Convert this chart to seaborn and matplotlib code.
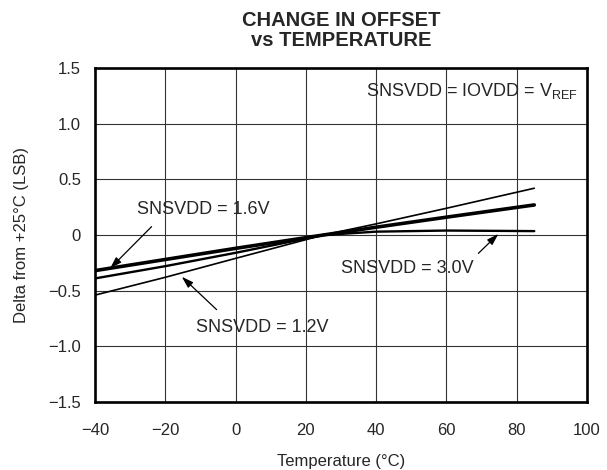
import numpy as np
import pandas as pd
import seaborn as sns
import matplotlib
matplotlib.use("Agg")
import matplotlib.pyplot as plt

# values
temperature = [-40, -20, 0, 25, 40, 60, 85]
delta_1v2 = [-0.54, -0.38, -0.21, 0.0, 0.10, 0.24, 0.42]
delta_1v6 = [-0.32, -0.22, -0.12, 0.0, 0.07, 0.16, 0.27]
delta_3v0 = [-0.39, -0.28, -0.16, 0.0, 0.03, 0.04, 0.035]

x_ticks = [-40, -20, 0, 20, 40, 60, 80, 100]
x_tick_labels = ["\u221240", "\u221220", "0", "20", "40", "60", "80", "100"]
y_ticks = [-1.5, -1.0, -0.5, 0, 0.5, 1.0, 1.5]
y_tick_labels = ["\u22121.5", "\u22121.0", "\u22120.5", "0", "0.5", "1.0", "1.5"]

sns.set_style("white")
plt.rcParams["font.family"] = ["Liberation Sans", "DejaVu Sans"]
plt.rcParams["mathtext.fontset"] = "custom"
plt.rcParams["mathtext.rm"] = "Liberation Sans"

df = pd.DataFrame({
    "temp": temperature * 3,
    "delta": delta_1v2 + delta_1v6 + delta_3v0,
    "series": ["1.2V"] * 7 + ["1.6V"] * 7 + ["3.0V"] * 7,
})

fig = plt.figure(figsize=(6.07, 4.70), dpi=100)
ax = fig.add_axes([0.1565, 0.1447, 0.8105, 0.7106])

widths = {"1.2V": 1.2, "1.6V": 2.6, "3.0V": 1.7}
for name, grp in df.groupby("series"):
    sns.lineplot(data=grp, x="temp", y="delta", color="black",
                 linewidth=widths[name], ax=ax, legend=False)

ax.set_xlim(-40, 100)
ax.set_ylim(-1.5, 1.5)
ax.set_xticks(x_ticks)
ax.set_xticklabels(x_tick_labels)
ax.set_yticks(y_ticks)
ax.set_yticklabels(y_tick_labels)
ax.tick_params(axis="both", length=0, labelsize=12)
ax.tick_params(axis="x", pad=15)
ax.tick_params(axis="y", pad=10)
ax.grid(True, color="#333333", linewidth=0.8)
for s in ax.spines.values():
    s.set_visible(True)
    s.set_color("black")
    s.set_linewidth(1.9)

ax.set_xlabel("Temperature (\u00b0C)", fontsize=12, labelpad=12)
ax.set_ylabel("Delta from +25\u00b0C (LSB)", fontsize=12, labelpad=14)
ax.set_title("CHANGE IN OFFSET\nvs TEMPERATURE", fontsize=14.5, fontweight="bold",
             pad=16, linespacing=1.05)

arrow = dict(arrowstyle="-|>,head_length=0.7,head_width=0.22", color="black",
             lw=0.9, shrinkA=0, shrinkB=0)
ax.text(97.5, 1.29, "SNSVDD = IOVDD = V$_{\\mathrm{REF}}$", ha="right", va="center",
        fontsize=13)
ax.text(-9.3, 0.23, "SNSVDD = 1.6V", ha="center", va="center", fontsize=13)
ax.annotate("", xy=(-35.7, -0.30), xytext=(-23.9, 0.075), arrowprops=arrow)
ax.text(7.7, -0.83, "SNSVDD = 1.2V", ha="center", va="center", fontsize=13)
ax.annotate("", xy=(-15.3, -0.375), xytext=(-5.4, -0.67), arrowprops=arrow)
ax.text(48.9, -0.305, "SNSVDD = 3.0V", ha="center", va="center", fontsize=13)
ax.annotate("", xy=(74.8, 0.01), xytext=(69.1, -0.165), arrowprops=arrow)

fig.savefig("out.png", dpi=100)
